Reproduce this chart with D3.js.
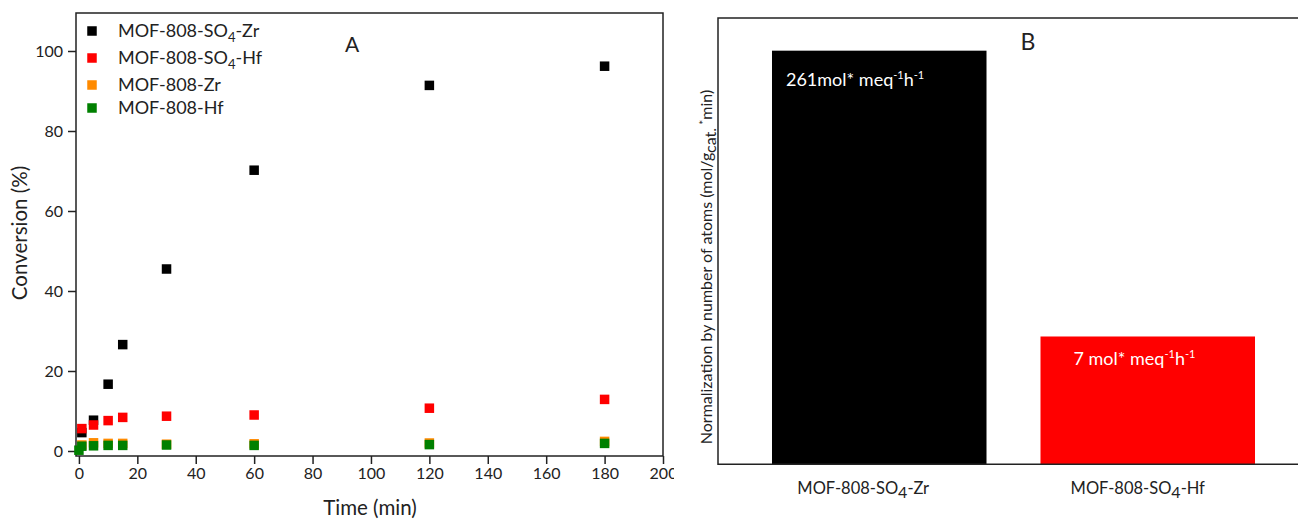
<!DOCTYPE html>
<html><head><meta charset="utf-8">
<script src="https://cdn.jsdelivr.net/npm/d3@7"></script>
<style>
body{margin:0;background:#fff;}
svg text{font-family:Lato,"Open Sans",sans-serif;fill:#222;}
</style></head>
<body>
<svg id="c" width="1298" height="519"></svg>
<script>
// ---- Panel A data ----
const timesA = [1, 5, 10, 15, 30, 60, 120, 180];
const timesA0 = [0, 1, 5, 10, 15, 30, 60, 120, 180];
const so4Zr = [4.6, 7.7, 16.7, 26.6, 45.5, 70.2, 91.4, 96.2];
const so4Hf = [5.6, 6.5, 7.6, 8.4, 8.7, 9.0, 10.7, 12.9];
const mofZr = [1.5, 2.05, 1.9, 1.9, 1.7, 1.8, 2.0, 2.4];
const mofHf = [0.2, 1.2, 1.3, 1.4, 1.4, 1.5, 1.4, 1.6, 1.9];
const xTicksA = [0, 20, 40, 60, 80, 100, 120, 140, 160, 180, 200];
const yTicksA = [0, 20, 40, 60, 80, 100];
const seriesA = [
  {name: ["MOF-808-SO", "4", "-Zr"], t: timesA, v: so4Zr, color: "#000000"},
  {name: ["MOF-808-SO", "4", "-Hf"], t: timesA, v: so4Hf, color: "#ff0000"},
  {name: ["MOF-808-Zr"], t: timesA, v: mofZr, color: "#ff8a00"},
  {name: ["MOF-808-Hf"], t: timesA0, v: mofHf, color: "#008000"}
];
// ---- Panel B data ----
const catsB = [["MOF-808-SO", "4", "-Zr"], ["MOF-808-SO", "4", "-Hf"]];
const valsB = [100, 30.9];
const colorsB = ["#000000", "#ff0000"];
const barLabelsB = [["261mol* meq", "-1", "h", "-1"], ["7 mol* meq", "-1", "h", "-1"]];

(function () {
const svg = d3.select("#c");
const ink = "#222";

// ================= Panel A =================
const xA = d3.scaleLinear().domain([-1, 200]).range([76, 663]);
const yA = d3.scaleLinear().domain([-1.25, 109.5]).range([456, 13]);

svg.append("defs").append("clipPath").attr("id", "clipA")
  .append("rect").attr("x", 0).attr("y", 0).attr("width", 674).attr("height", 519);

const gA = svg.append("g");
gA.append("rect").attr("x", xA.range()[0]).attr("y", yA.range()[1])
  .attr("width", xA.range()[1] - xA.range()[0]).attr("height", yA.range()[0] - yA.range()[1])
  .attr("fill", "none").attr("stroke", ink).attr("stroke-width", 1.5);

const xAxisA = gA.append("g").attr("transform", `translate(0,${yA.range()[0]})`)
  .attr("clip-path", "url(#clipA)")
  .call(d3.axisBottom(xA).tickValues(xTicksA).tickSize(8).tickPadding(4).tickFormat(d3.format("d")));
xAxisA.select(".domain").remove();
xAxisA.selectAll("line").attr("stroke", ink).attr("stroke-width", 1.5);
xAxisA.selectAll("text").attr("font-size", 16).attr("font-family", "Lato").attr("fill", ink);

const yAxisA = gA.append("g").attr("transform", `translate(${xA.range()[0]},0)`)
  .call(d3.axisLeft(yA).tickValues(yTicksA).tickSize(8).tickPadding(5).tickFormat(d3.format("d")));
yAxisA.select(".domain").remove();
yAxisA.selectAll("line").attr("stroke", ink).attr("stroke-width", 1.5);
yAxisA.selectAll("text").attr("font-size", 16).attr("font-family", "Lato").attr("fill", ink);

gA.append("text").attr("x", 370).attr("y", 515).attr("text-anchor", "middle")
  .attr("font-size", 20.5).text("Time (min)");
gA.append("text").attr("transform", "translate(27,233) rotate(-90)").attr("text-anchor", "middle")
  .attr("font-size", 20.5).text("Conversion (%)");
gA.append("text").attr("x", 352).attr("y", 52).attr("text-anchor", "middle")
  .attr("font-size", 21).text("A");

const ms = 9.5;
seriesA.forEach(s => {
  gA.append("g").selectAll("rect").data(s.t.map((t, i) => [t, s.v[i]])).join("rect")
    .attr("x", d => xA(d[0]) - ms / 2).attr("y", d => yA(d[1]) - ms / 2)
    .attr("width", ms).attr("height", ms).attr("fill", s.color);
});

const legY = [31, 58, 85, 108];
seriesA.forEach((s, i) => {
  gA.append("rect").attr("x", 92 - ms / 2).attr("y", legY[i] - ms / 2)
    .attr("width", ms).attr("height", ms).attr("fill", s.color);
  const t = gA.append("text").attr("x", 118).attr("y", legY[i] + 6).attr("font-size", 18);
  t.append("tspan").text(s.name[0]);
  if (s.name.length > 1) {
    t.append("tspan").attr("dy", 5).attr("font-size", 13).text(s.name[1]);
    t.append("tspan").attr("dy", -5).text(s.name[2]);
  }
});

// ================= Panel B =================
const bLeft = 718, bBottom = 464.3, bTop = 18;
const xB = d3.scaleBand().domain(d3.range(catsB.length)).range([718, 1309]).padding(0.2011);
const yB = d3.scaleLinear().domain([0, 107.9]).range([bBottom, bTop]);
const gB = svg.append("g");

gB.selectAll("rect.bar").data(valsB).join("rect").attr("class", "bar")
  .attr("x", (d, i) => xB(i)).attr("width", xB.bandwidth())
  .attr("y", d => yB(d)).attr("height", d => bBottom - yB(d))
  .attr("fill", (d, i) => colorsB[i]);

gB.append("path").attr("d", `M1300,${bTop}H${bLeft}V${bBottom}H1300`)
  .attr("fill", "none").attr("stroke", ink).attr("stroke-width", 1.5);

gB.append("text").attr("x", 1028).attr("y", 50).attr("text-anchor", "middle")
  .attr("font-size", 23).text("B");

barLabelsB.forEach((lb, i) => {
  const t = gB.append("text").attr("x", xB(i) + (i === 0 ? 14 : 33)).attr("y", yB(valsB[i]) + (i === 0 ? 35 : 29))
    .attr("font-size", 18).style("fill", "#fff");
  t.append("tspan").text(lb[0]);
  t.append("tspan").attr("dy", -7).attr("font-size", 11).text(lb[1]);
  t.append("tspan").attr("dy", 7).text(lb[2]);
  t.append("tspan").attr("dy", -7).attr("font-size", 11).text(lb[3]);
});

const catShift = [-16, -10];
catsB.forEach((c, i) => {
  const t = gB.append("text").attr("x", xB(i) + xB.bandwidth() / 2 + catShift[i]).attr("y", 494)
    .attr("text-anchor", "middle").attr("font-size", 16.5);
  t.append("tspan").text(c[0]);
  t.append("tspan").attr("dy", 4).attr("font-size", 16).text(c[1]);
  t.append("tspan").attr("dy", -4).text(c[2]);
});

const yl = gB.append("text").attr("transform", "translate(712,267) rotate(-90)")
  .attr("text-anchor", "middle").attr("font-size", 16);
yl.append("tspan").text("Normalization by number of atoms (mol/g");
yl.append("tspan").attr("dy", 4).text("cat.");
yl.append("tspan").attr("dy", -8).attr("font-size", 12).text(" *");
yl.append("tspan").attr("dy", 4).text("min)");
})();
</script>
</body></html>
